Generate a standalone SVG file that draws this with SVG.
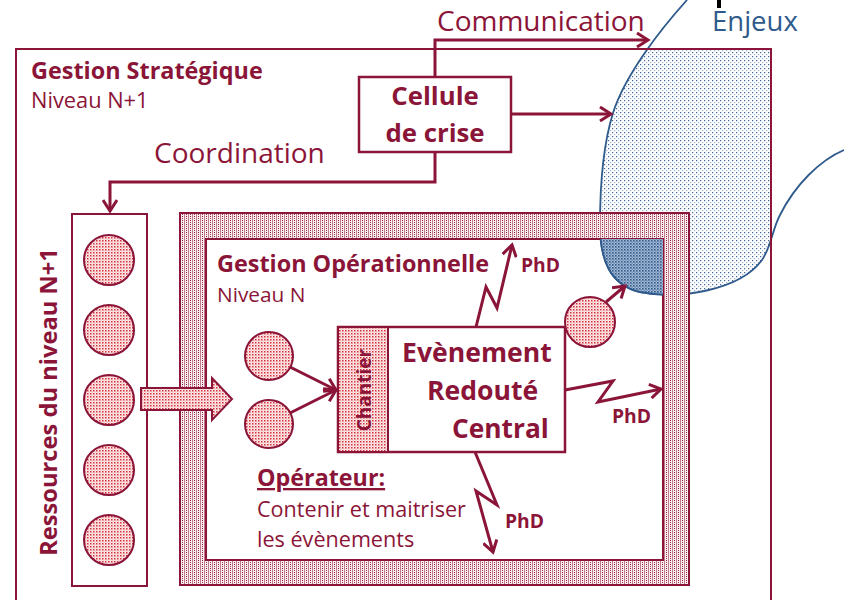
<svg xmlns="http://www.w3.org/2000/svg" width="844" height="600" viewBox="0 0 844 600">
<style>
.t{font-family:"Open Sans","Noto Sans","Liberation Sans",sans-serif;fill:#8b1538}
.b{font-weight:bold}
.ln{fill:none;stroke:#8b1538;stroke-width:3;stroke-linejoin:miter}
.box{fill:#fff;stroke:#8b1538;stroke-width:2.5}
.circ{fill:url(#redDots);stroke:#8b1538;stroke-width:2}
</style>
<defs>
<pattern id="hatch" width="4" height="4" patternUnits="userSpaceOnUse">
<rect width="4" height="4" fill="#fbeef1"/>
<rect x="0" y="0" width="1" height="4" fill="#c27b8c"/>
<rect x="2" y="0" width="1" height="1" fill="#8b1538"/>
<rect x="2" y="2" width="1" height="1" fill="#a33a55"/>
</pattern>
<pattern id="redDots" width="3" height="3" patternUnits="userSpaceOnUse">
<rect width="3" height="3" fill="#fdf0f0"/>
<rect width="1.5" height="1.5" fill="#d42a35"/>
<rect x="1.5" y="1.5" width="1" height="1" fill="#e8868c"/>
</pattern>
<pattern id="blueDots" width="4" height="4" patternUnits="userSpaceOnUse">
<rect width="4" height="4" fill="#fff"/>
<rect width="1.2" height="1.2" fill="#3b6496"/>
<rect x="2" y="2" width="1.2" height="1.2" fill="#9ab2cf"/>
</pattern>
<pattern id="blueDense" width="3" height="3" patternUnits="userSpaceOnUse">
<rect width="3" height="3" fill="#a9bdd6"/>
<rect width="1.6" height="1.6" fill="#2f5a8c"/>
<rect x="1.5" y="1.5" width="1.2" height="1.2" fill="#4a72a2"/>
</pattern>
<clipPath id="outerClip"><rect x="16" y="49" width="755" height="560"/></clipPath>
<clipPath id="innerClip"><rect x="206" y="239" width="457" height="321"/></clipPath>
<marker id="arr" markerUnits="userSpaceOnUse" markerWidth="16" markerHeight="16" viewBox="-13 -8 16 16" refX="0" refY="0" orient="auto">
<path d="M-11,-7 L0,0 L-11,7" fill="none" stroke="#8b1538" stroke-width="3"/>
</marker>
</defs>

<g id="enjeux">
<path d="M687,0 C660,30 625,75 613,113 C603,145 600,190 600,225 C600,260 610,285 640,292 C680,300 740,290 762,260 C772,245 772,230 780,215 C795,185 820,160 844,150 L844,0 Z" fill="url(#blueDots)" clip-path="url(#outerClip)"/>
<path d="M687,0 C660,30 625,75 613,113 C603,145 600,190 600,225 C600,260 610,285 640,292 C680,300 740,290 762,260 C772,245 772,230 780,215 C795,185 820,160 844,150" fill="none" stroke="#2f5a8c" stroke-width="1.8"/>
<text x="712" y="31" font-family="Open Sans, Noto Sans, sans-serif" font-size="27.5" fill="#2f5a8c">Enjeux</text>
<rect x="717" y="0" width="4" height="8" fill="#000"/>
</g>

<g id="gestion-strategique">
<rect x="16" y="49" width="755" height="560" fill="none" stroke="#8b1538" stroke-width="2"/>
<text class="t b" x="31" y="79" font-size="23.4">Gestion Stratégique</text>
<text class="t" x="31" y="108" font-size="21.8">Niveau N+1</text>
</g>

<g id="gestion-operationnelle">
<path d="M180,213 H689 V585 H180 Z M206,239 V560 H663 V239 Z" fill="url(#hatch)" fill-rule="evenodd" stroke="#8b1538" stroke-width="2"/>
<path d="M687,0 C660,30 625,75 613,113 C603,145 600,190 600,225 C600,260 610,285 640,292 C680,300 740,290 762,260 C772,245 772,230 780,215 C795,185 820,160 844,150 L844,0 Z" fill="url(#blueDense)" stroke="#2f5a8c" stroke-width="1.8" clip-path="url(#innerClip)"/>
<text class="t b" x="217" y="272" font-size="23.4">Gestion Opérationnelle</text>
<text class="t" x="217" y="302" font-size="20.8">Niveau N</text>
<text class="t b" x="257" y="486" font-size="23.3" text-decoration="underline">Opérateur:</text>
<text class="t" x="257" y="517" font-size="21.6">Contenir et maitriser</text>
<text class="t" x="257" y="547" font-size="21.6">les évènements</text>
</g>

<g id="cellule-de-crise">
<rect class="box" x="359" y="77" width="152" height="75"/>
<text class="t b" x="435" y="105" font-size="25.8" text-anchor="middle">Cellule</text>
<text class="t b" x="435" y="142" font-size="25.8" text-anchor="middle">de crise</text>
</g>

<g id="ressources">
<rect x="72" y="214" width="75" height="372" fill="#fff" stroke="#8b1538" stroke-width="2"/>
<circle class="circ" cx="109" cy="260" r="25"/>
<circle class="circ" cx="109" cy="330" r="25"/>
<circle class="circ" cx="109" cy="400" r="25"/>
<circle class="circ" cx="109" cy="470" r="25"/>
<circle class="circ" cx="109" cy="540" r="25"/>
<text class="t b" font-size="23.7" text-anchor="middle" transform="translate(57,402) rotate(-90)">Ressources du niveau N+1</text>
</g>

<g id="transfert">
<path d="M141,388 H212 V378 L232,399 L212,420 V410 H141 Z" fill="url(#redDots)" stroke="#8b1538" stroke-width="2"/>
</g>

<g id="ressources-op">
<circle class="circ" cx="269" cy="356" r="24"/>
<circle class="circ" cx="269" cy="424" r="24"/>
<circle class="circ" cx="590" cy="322" r="25"/>
</g>

<g id="evenement">
<rect class="box" x="338" y="327" width="227" height="125" stroke-width="2"/>
<rect x="338" y="327" width="50" height="125" fill="url(#redDots)" stroke="#8b1538" stroke-width="2"/>
<text class="t b" font-size="19" text-anchor="middle" transform="translate(371,390) rotate(-90)">Chantier</text>
<text class="t b" x="402" y="362" font-size="26.6">Evènement</text>
<text class="t b" x="427" y="400" font-size="26.6">Redouté</text>
<text class="t b" x="452" y="438" font-size="26.3">Central</text>
</g>

<g id="connectors">
<path class="ln" d="M435,77 V40 H648" marker-end="url(#arr)"/>
<text class="t" x="437" y="31" font-size="28">Communication</text>
<path class="ln" d="M511,114 H611" marker-end="url(#arr)"/>
<path class="ln" d="M435,152 V182 H110 V211" marker-end="url(#arr)"/>
<text class="t" x="154" y="163" font-size="28">Coordination</text>
<path class="ln" d="M290,367 L336,390" marker-end="url(#arr)"/>
<path class="ln" d="M290,413 L336,390" marker-end="url(#arr)"/>
<path class="ln" d="M606,302 L625,286" marker-end="url(#arr)"/>
<path class="ln" d="M476,327 L486,287 L497,308 L512,245" marker-end="url(#arr)"/>
<text class="t b" x="521" y="272" font-size="19.3">PhD</text>
<path class="ln" d="M565,390 L613,381 L598,402 L661,389" marker-end="url(#arr)"/>
<text class="t b" x="612" y="423" font-size="19.3">PhD</text>
<path class="ln" d="M475,452 L497,505 L476,491 L493,552" marker-end="url(#arr)"/>
<text class="t b" x="505" y="528" font-size="19.3">PhD</text>
</g>
</svg>
